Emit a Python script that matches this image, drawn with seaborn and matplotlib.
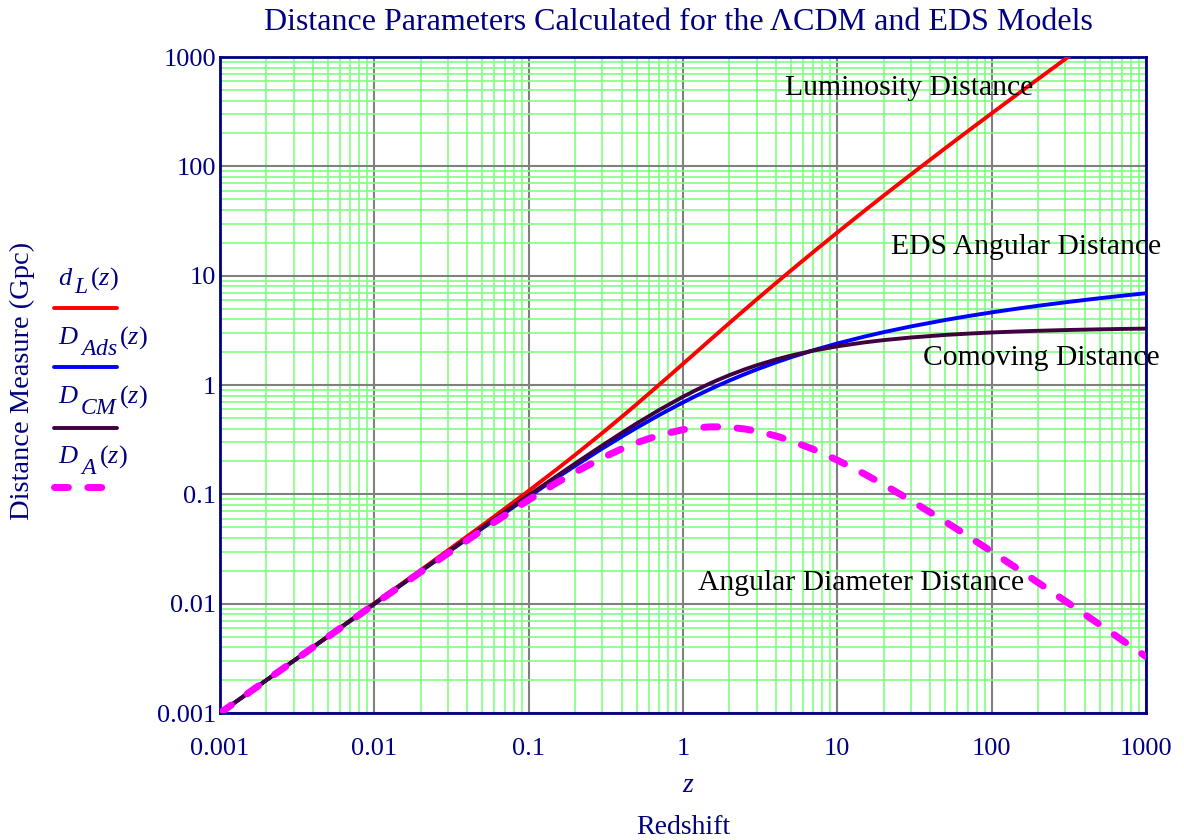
import matplotlib.pyplot as plt
import matplotlib.ticker as mticker
import pandas as pd
import seaborn as sns
from matplotlib.lines import Line2D

# redshift samples and the four distance curves (units of c/H0)
z = [0.001, 0.002, 0.005, 0.01, 0.02, 0.05, 0.1, 0.15, 0.2, 0.3, 0.4, 0.5, 0.7, 1, 1.2, 1.5,
     1.7, 2, 2.5, 3, 4, 5, 7, 10, 15, 20, 30, 50, 70, 100, 150, 200, 300, 500, 700, 1000]
d_lum = [0.001, 0.002, 0.00503, 0.01008, 0.0203, 0.052, 0.1077, 0.1669, 0.2296, 0.3641, 0.5102,
         0.6662, 1.004, 1.562, 1.96, 2.588, 3.021, 3.693, 4.855, 6.056, 8.555, 11.14, 16.5,
         24.85, 39.26, 54.05, 84.32, 146.4, 209.5, 305.3, 466.8, 629.6, 957.5, 1618, 2283, 3283]
d_eds = [0.0009995, 0.001998, 0.004988, 0.00995, 0.0198, 0.0488, 0.0953, 0.1398, 0.1823, 0.2624,
         0.3365, 0.4055, 0.5306, 0.6931, 0.7885, 0.9163, 0.9933, 1.0986, 1.2528, 1.3863, 1.6094,
         1.7918, 2.0794, 2.3979, 2.7726, 3.0445, 3.434, 3.9318, 4.2627, 4.6151, 5.0173, 5.3033,
         5.7071, 6.2166, 6.5525, 6.9088]
d_com = [0.001, 0.002, 0.005, 0.00998, 0.0199, 0.0495, 0.0979, 0.1451, 0.1913, 0.2801, 0.3644,
         0.4441, 0.5905, 0.781, 0.891, 1.035, 1.119, 1.231, 1.387, 1.514, 1.711, 1.857, 2.063,
         2.259, 2.454, 2.574, 2.72, 2.87, 2.95, 3.023, 3.091, 3.132, 3.181, 3.23, 3.256, 3.28]
d_ang = [0.000999, 0.001996, 0.00497, 0.00988, 0.0195, 0.0471, 0.089, 0.1262, 0.1594, 0.2155,
         0.2603, 0.2961, 0.3474, 0.3905, 0.405, 0.414, 0.4144, 0.4103, 0.3963, 0.3785, 0.3422,
         0.3095, 0.2579, 0.2054, 0.1534, 0.1226, 0.0877, 0.0563, 0.0416, 0.0299, 0.0205, 0.01558,
         0.01057, 0.00645, 0.00464, 0.00328]

major_ticks = [0.001, 0.01, 0.1, 1, 10, 100, 1000]
tick_labels = ["0.001", "0.01", "0.1", "1", "10", "100", "1000"]

NAVY = "#000080"
W, H = 1184, 840

sns.set_theme(style="white")
plt.rcParams["font.family"] = ["Liberation Serif", "DejaVu Serif"]
plt.rcParams["mathtext.fontset"] = "custom"
plt.rcParams["mathtext.rm"] = "Liberation Serif"
plt.rcParams["mathtext.it"] = "Liberation Serif:italic"

fig = plt.figure(figsize=(W / 100, H / 100), dpi=100)
ax = fig.add_axes([220 / W, 1 - 713 / H, 926 / W, 656 / H])
ax.set_xscale("log")
ax.set_yscale("log")

df = pd.DataFrame({"z": z, "dL": d_lum, "DAds": d_eds, "DCM": d_com, "DA": d_ang})
sns.lineplot(data=df, x="z", y="dL", color="#ff0000", lw=2.8, ax=ax, sort=False, zorder=3)
sns.lineplot(data=df, x="z", y="DAds", color="#0000ff", lw=2.8, ax=ax, sort=False, zorder=4)
sns.lineplot(data=df, x="z", y="DCM", color="#400040", lw=2.8, ax=ax, sort=False, zorder=5)
sns.lineplot(data=df, x="z", y="DA", color="#ff00ff", lw=5, ax=ax, sort=False, zorder=6)
pink = ax.lines[-1]
pink.set_dashes((2, 2.8))
pink.set_dash_capstyle("round")

ax.set_xlim(1e-3, 1e3)
ax.set_ylim(1e-3, 1e3)
ax.set_xlabel("")
ax.set_ylabel("")
ax.set_xticks(major_ticks, tick_labels)
ax.set_yticks(major_ticks, tick_labels)
ax.xaxis.set_minor_locator(mticker.LogLocator(base=10, subs=range(2, 10), numticks=20))
ax.yaxis.set_minor_locator(mticker.LogLocator(base=10, subs=range(2, 10), numticks=20))
ax.xaxis.set_minor_formatter(mticker.NullFormatter())
ax.yaxis.set_minor_formatter(mticker.NullFormatter())
ax.tick_params(which="both", length=0, labelsize=19, labelcolor=NAVY)
ax.tick_params(axis="x", pad=18)
ax.tick_params(axis="y", pad=3)
ax.grid(which="minor", color="#80ff80", lw=1.2)
ax.grid(which="major", color="#808080", lw=1.5)
ax.set_axisbelow(True)
for s in ax.spines.values():
    s.set_color(NAVY)
    s.set_linewidth(2)

# curve labels
lbl = dict(fontsize=21.3, color="black", transform=ax.transAxes, va="center", clip_on=False)
ax.text((785 - 220) / 926, (713 - 88) / 656, "Luminosity Distance", **lbl)
ax.text((891 - 220) / 926, (713 - 247) / 656, "EDS Angular Distance", **lbl)
ax.text((923 - 220) / 926, (713 - 358) / 656, "Comoving Distance", **lbl)
ax.text((698 - 220) / 926, (713 - 583) / 656, "Angular Diameter Distance", **lbl)

fig.text(678 / W, 1 - 22 / H, "Distance Parameters Calculated for the \u039bCDM and EDS Models",
         ha="center", va="center", fontsize=23, color=NAVY)
fig.text(22 / W, 1 - 381 / H, "Distance Measure (Gpc)", rotation=90, ha="center", va="center",
         fontsize=20.5, color=NAVY)
fig.text(688 / W, 1 - 785 / H, "$z$", ha="center", va="center", fontsize=20, color=NAVY)
fig.text(683 / W, 1 - 828 / H, "Redshift", ha="center", va="center", fontsize=20, color=NAVY)

# legend on the left: label (symbol, big lowered subscript, "(z)") above each line sample
legend_items = [
    ("d", "L", "#ff0000", 2.8, None, 285, 308, 8),
    ("D", "Ads", "#0000ff", 2.8, None, 344, 367, 11),
    ("D", "CM", "#400040", 2.8, None, 403, 428, 11),
    ("D", "A", "#ff00ff", 5, (2, 2.8), 463, 487, 11),
]
renderer = fig.canvas.get_renderer()
for sym, sub, color, lw, dash, ty, ly, drop in legend_items:
    x = 58
    pieces = [("$" + sym + "$", 19, 0), ("$" + sub + "$", 17, drop), ("$(z)$", 19, 0)]
    for txt, size, dy in pieces:
        t = fig.text(x / W, 1 - (ty + dy) / H, txt, fontsize=size, color=NAVY, va="baseline")
        x += t.get_window_extent(renderer).width + 1
    x1 = 117 if dash is None else 104
    line = Line2D([54 / W, x1 / W], [1 - ly / H, 1 - ly / H], color=color, lw=lw,
                  solid_capstyle="round", transform=fig.transFigure)
    if dash is not None:
        line.set_dashes(dash)
        line.set_dash_capstyle("round")
    fig.add_artist(line)

fig.savefig("out.png", dpi=100)
